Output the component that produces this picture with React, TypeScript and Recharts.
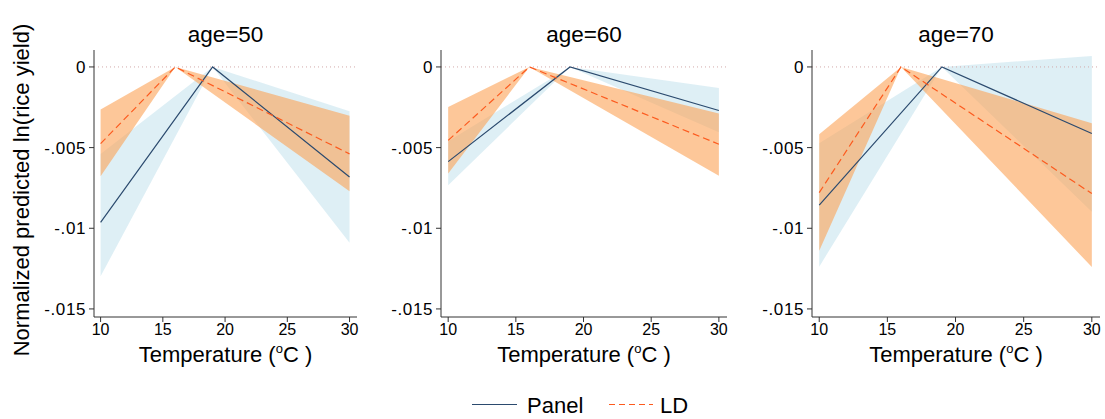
import React from "react";
import {
  ComposedChart,
  Area,
  Line,
  XAxis,
  YAxis,
  ReferenceLine,
} from "recharts";

// one entry per facet (age=50, 60, 70)
const ages = [50, 60, 70];
const panelTemps = [10, 19, 30];
const ldTemps = [10, 16, 30];

const panelEst = [
  [-0.00963, 0, -0.00682],
  [-0.00587, 0, -0.0027],
  [-0.00857, 0, -0.00413],
];
const panelLow = [
  [-0.01298, 0, -0.0109],
  [-0.00733, 0, -0.00405],
  [-0.01238, 0, -0.00897],
];
const panelHigh = [
  [-0.0054, 0, -0.00275],
  [-0.0046, 0, -0.0013],
  [-0.00473, 0, 0.00068],
];

const ldEst = [
  [-0.00475, 0, -0.00539],
  [-0.00455, 0, -0.00479],
  [-0.00779, 0, -0.00785],
];
const ldLow = [
  [-0.00678, 0, -0.00771],
  [-0.00661, 0, -0.00674],
  [-0.0114, 0, -0.0124],
];
const ldHigh = [
  [-0.00264, 0, -0.00302],
  [-0.00248, 0, -0.00289],
  [-0.00417, 0, -0.00349],
];

const xTicks = [10, 15, 20, 25, 30];
const yTicks = [0, -0.005, -0.01, -0.015];

const FONT = "'Liberation Sans', Arial, Helvetica, sans-serif";
const PANEL_COLOR = "#2b4a6e";
const LD_COLOR = "#fc5a1e";

// chart boxes: left, width, y-axis width, plot width
const layout = [
  { left: 0, width: 365, yw: 94, pw: 263 },
  { left: 380, width: 355, yw: 61, pw: 286 },
  { left: 750, width: 355, yw: 62, pw: 288 },
];

const fmtY = (v: number) =>
  v === 0 ? "0" : "-" + String(Math.abs(v)).replace(/^0/, "");

const bandRows = (temps: number[], lo: number[], hi: number[]) =>
  temps.map((t, i) => ({ t, range: [lo[i], hi[i]] }));
const lineRows = (temps: number[], est: number[]) =>
  temps.map((t, i) => ({ t, v: est[i] }));

function Facet({ i }: { i: number }) {
  const { left, width, yw, pw } = layout[i];
  return (
    <div style={{ position: "absolute", left, top: 0 }}>
      <ComposedChart
        width={width}
        height={370}
        margin={{ top: 50, right: width - yw - pw, bottom: 0, left: 0 }}
      >
        <XAxis
          dataKey="t"
          type="number"
          domain={[9.47, 30.6]}
          allowDataOverflow
          ticks={xTicks}
          interval={0}
          height={53}
          tickSize={5}
          tickMargin={2}
          stroke="#333"
          tick={{ fill: "#000", fontSize: 16, fontFamily: FONT }}
        />
        <YAxis
          type="number"
          domain={[-0.0155, 0.00105]}
          allowDataOverflow
          ticks={yTicks}
          interval={0}
          width={yw}
          tickSize={5}
          tickMargin={3}
          tickFormatter={fmtY}
          stroke="#333"
          tick={{ fill: "#000", fontSize: 17, fontFamily: FONT, letterSpacing: 0.6 }}
        />
        <ReferenceLine y={0} stroke="#d3a9a9" strokeDasharray="1 3" />
        <Area
          data={bandRows(panelTemps, panelLow[i], panelHigh[i])}
          dataKey="range"
          type="linear"
          stroke="none"
          fill="#add8e6"
          fillOpacity={0.4}
          isAnimationActive={false}
          dot={false}
          activeDot={false}
        />
        <Area
          data={bandRows(ldTemps, ldLow[i], ldHigh[i])}
          dataKey="range"
          type="linear"
          stroke="none"
          fill="#fba255"
          fillOpacity={0.6}
          isAnimationActive={false}
          dot={false}
          activeDot={false}
        />
        <Line
          data={lineRows(panelTemps, panelEst[i])}
          dataKey="v"
          type="linear"
          stroke={PANEL_COLOR}
          strokeWidth={1.2}
          dot={false}
          activeDot={false}
          isAnimationActive={false}
        />
        <Line
          data={lineRows(ldTemps, ldEst[i])}
          dataKey="v"
          type="linear"
          stroke={LD_COLOR}
          strokeWidth={1.2}
          strokeDasharray="7 4"
          dot={false}
          activeDot={false}
          isAnimationActive={false}
        />
      </ComposedChart>
    </div>
  );
}

export default function App() {
  const centers = [225.5, 584, 956];
  return (
    <div
      style={{
        position: "absolute",
        left: 0,
        top: 0,
        width: 1105,
        height: 419,
        background: "#fff",
        fontFamily: FONT,
      }}
    >
      {ages.map((_, i) => (
        <Facet key={i} i={i} />
      ))}
      <svg
        width={1105}
        height={419}
        style={{ position: "absolute", left: 0, top: 0, pointerEvents: "none" }}
        fontFamily={FONT}
      >
        {ages.map((a, i) => (
          <g key={a}>
            <text x={centers[i]} y={42} fontSize={22.5} textAnchor="middle" fill="#000">
              age={a}
            </text>
            <text x={centers[i]} y={362} fontSize={22} textAnchor="middle" fill="#000">
              Temperature (
              <tspan fontSize={13} dy={-9}>o</tspan>
              <tspan dy={9}>C )</tspan>
            </text>
          </g>
        ))}
        <text
          transform="translate(29,190) rotate(-90)"
          fontSize={22}
          textAnchor="middle"
          fill="#000"
        >
          Normalized predicted ln(rice yield)
        </text>
        <line x1={472} x2={517} y1={404.5} y2={404.5} stroke={PANEL_COLOR} strokeWidth={1} />
        <text x={527} y={413} fontSize={22} fill="#000">Panel</text>
        <line x1={609} x2={653} y1={404.5} y2={404.5} stroke={LD_COLOR} strokeWidth={1} strokeDasharray="6 4" />
        <text x={660} y={413} fontSize={22} fill="#000">LD</text>
      </svg>
    </div>
  );
}
